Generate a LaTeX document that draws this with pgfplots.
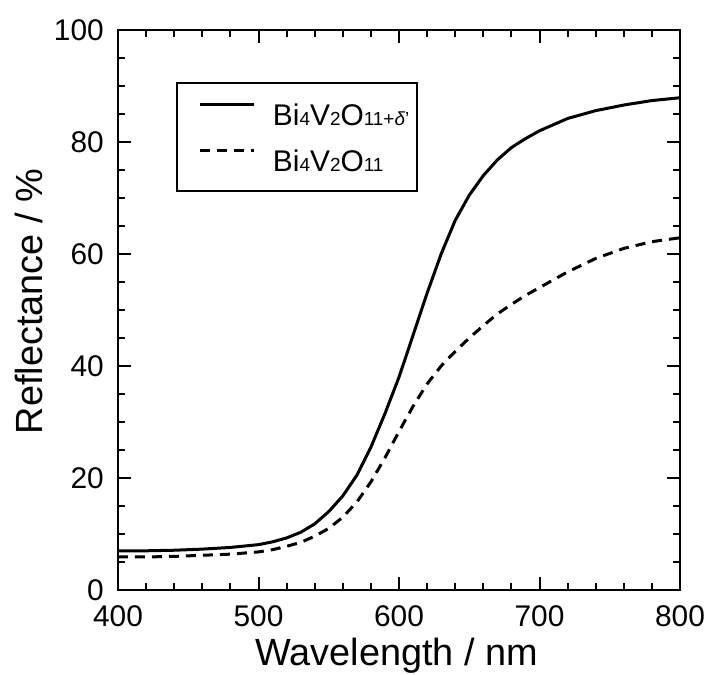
\documentclass[border=0pt]{standalone}
\usepackage{pgfplots}
\pgfplotsset{compat=1.18}
\usepackage{fontspec}
\setmainfont{Liberation Sans}
\newcommand\sub[1]{{\fontsize{19}{21}\selectfont #1}}
\begin{document}
\begin{tikzpicture}
\begin{axis}[
  scale only axis,
  width=562bp, height=560bp,
  xmin=400, xmax=800, ymin=0, ymax=100,
  xtick distance=100, ytick distance=20,
  minor x tick num=4, minor y tick num=3,
  tick align=inside,
  major tick length=13bp, minor tick length=7bp,
  every tick/.style={line width=2bp, black},
  axis line style={line width=2bp},
  /pgf/number format/assume math mode=true,
  ticklabel style={font=\fontsize{30}{33}\selectfont, inner sep=0pt},
  xticklabel style={anchor=north, yshift=-15bp},
  yticklabel style={anchor=east, xshift=-14bp},
  xlabel={Wavelength / nm}, ylabel={Reflectance / \%},
  label style={font=\fontsize{38}{42}\selectfont},
  xlabel style={at={(axis description cs:0.496,-0.1357)}, anchor=base},
  ylabel style={at={(axis description cs:-0.1335,0.515)}, anchor=base},
  legend style={at={(axis description cs:0.1032,0.9071)}, anchor=north west, draw=black, line width=2bp,
    font=\fontsize{30}{33}\selectfont, inner xsep=0pt, inner ysep=20bp, row sep=24bp, column sep=0pt,
    nodes={inner sep=0pt, text height=21bp, text depth=0pt}},
  legend cell align=left,
  legend image code/.code={\path (0bp,0bp) (93bp,0bp); \draw[#1, line width=3bp] (22bp,10bp) -- (76bp,10bp);},
]
\coordinate (SW) at (rel axis cs:0,0);
\coordinate (NE) at (rel axis cs:1,1);
\addplot[black, line width=3bp] coordinates {
(400,7.0)(420,7.0)(440,7.1)(460,7.3)(480,7.6)(500,8.1)(510,8.6)(520,9.3)(530,10.3)(540,11.8)
(550,14.0)(560,16.8)(570,20.5)(580,25.5)(590,31.5)(600,38.0)(610,45.5)(620,53.0)(630,60.0)
(640,66.0)(650,70.5)(660,74.0)(670,76.8)(680,79.0)(690,80.6)(700,82.0)(720,84.2)(740,85.6)
(760,86.6)(780,87.4)(800,87.9)};
\addlegendentry{Bi\sub{4}V\sub{2}O\sub{11+\textit{δ}'}\hspace*{8bp}}
\addplot[black, line width=3bp, dash pattern=on 10bp off 7bp] coordinates {
(400,5.9)(420,5.9)(440,6.0)(460,6.2)(480,6.4)(500,6.8)(510,7.2)(520,7.8)(530,8.5)(540,9.6)
(550,11.0)(560,13.0)(570,15.7)(580,19.3)(590,23.6)(600,28.3)(610,32.8)(620,36.8)(630,40.0)
(640,42.6)(650,45.0)(660,47.2)(670,49.3)(680,51.0)(690,52.6)(700,54.0)(720,56.8)(740,59.2)
(760,61.0)(780,62.2)(800,62.9)};
\addlegendentry{Bi\sub{4}V\sub{2}O\sub{11}}
\end{axis}
\pgfresetboundingbox
\path ([shift={(-118bp,-85bp)}]SW) rectangle ([shift={(30bp,30bp)}]NE);
\end{tikzpicture}
\end{document}
